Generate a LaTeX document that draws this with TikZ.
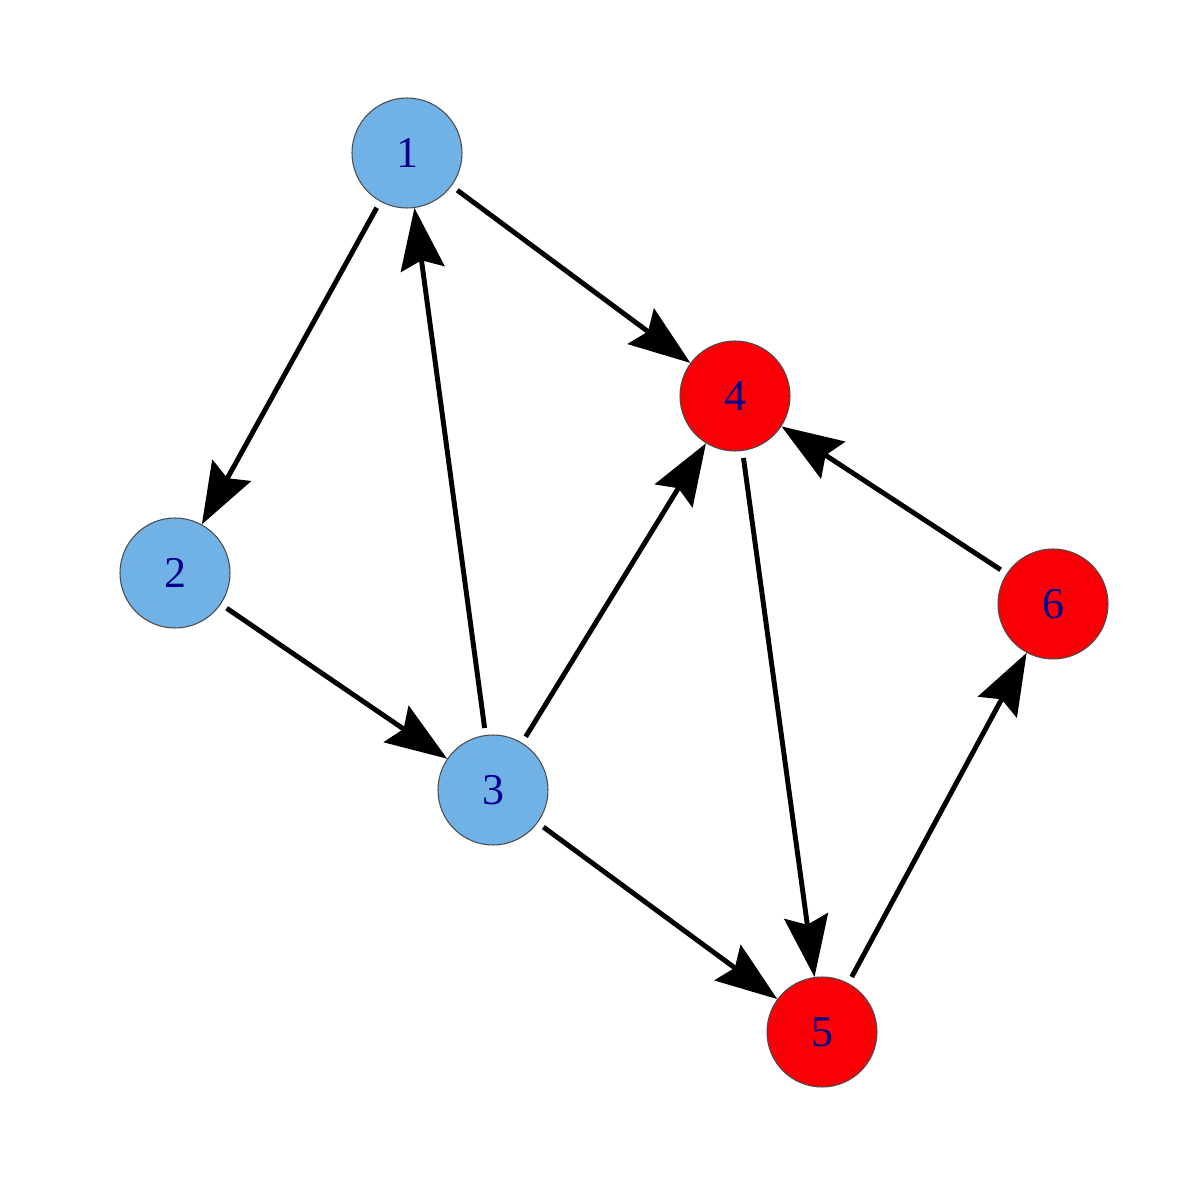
\documentclass[tikz,border=0pt]{standalone}
\usepackage{fontspec}
\setmainfont{Liberation Serif}
\usepackage{tikz}
\usetikzlibrary{arrows.meta}
\definecolor{nodeblue}{RGB}{112,178,230}
\definecolor{nodered}{RGB}{250,0,6}
\definecolor{labelblue}{RGB}{0,0,140}
\tikzstyle{v}=[circle, inner sep=0pt, minimum size=1.1cm, draw=black!70, line width=0.3pt, text=labelblue, font=\fontsize{12.5}{14}\selectfont]
\tikzstyle{cold}=[v, fill=nodeblue]
\tikzstyle{hot}=[v, fill=nodered]
\tikzstyle{edge}=[line width=1.4pt, shorten <=2pt, -{Stealth[length=17.5pt, width=12.5pt, inset=2.5pt]}]

\begin{document}
\begin{tikzpicture}
				\useasboundingbox (0,0) rectangle (12,12);
				%The nodes
				\draw (4.07,10.47) node[cold] (n1) {1};
				\draw (1.75,6.27) node[cold] (n2) {2};
				\draw (4.93,4.10) node[cold] (n3) {3};
				\draw (7.35,8.04) node[hot] (n4) {4};
				\draw (8.22,1.68) node[hot] (n5) {5};
				\draw (10.53,5.96) node[hot] (n6) {6};
				
				%The edges
				\draw[edge] (n1) -- (n2);
				\draw[edge] (n1) -- (n4);
				\draw[edge] (n2) -- (n3);
				\draw[edge] (n3) -- (n1);
				\draw[edge] (n3) -- (n4);
				\draw[edge] (n3) -- (n5);
				\draw[edge] (n4) -- (n5);
				\draw[edge] (n6) -- (n4);
				\draw[edge] (n5) -- (n6);
\end{tikzpicture}
\end{document}
